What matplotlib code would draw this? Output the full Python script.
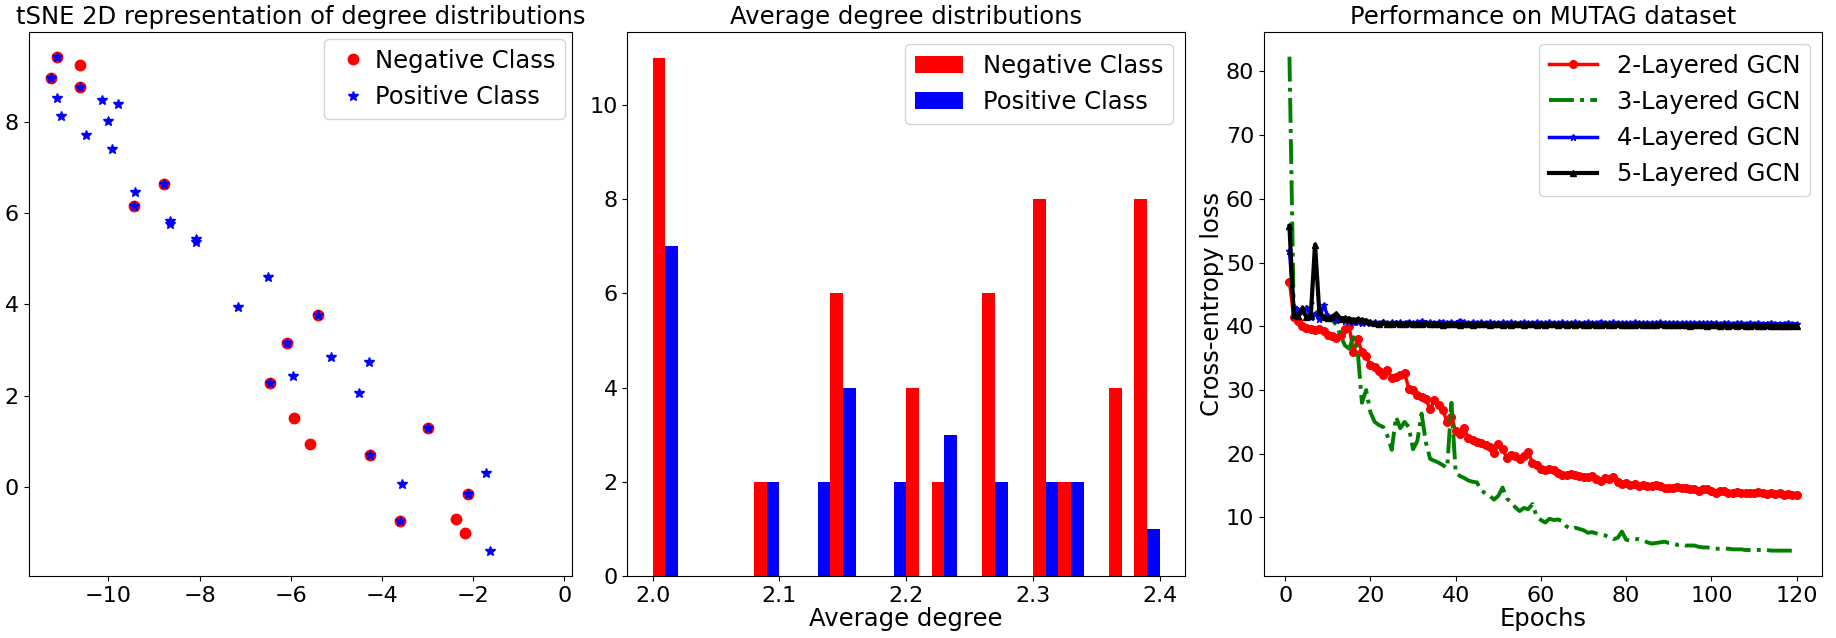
import numpy as np
import matplotlib

matplotlib.use("Agg")
import matplotlib.pyplot as plt

# --- panel 1: tSNE embedding of degree distributions ---
neg_x = [-11.27, -11.13, -10.62, -10.62, -9.44, -8.78, -5.41, -6.09, -6.45,
         -5.92, -5.57, -2.98, -4.26, -3.60, -2.11, -2.37, -2.18]
neg_y = [8.97, 9.43, 9.24, 8.77, 6.15, 6.65, 3.77, 3.15, 2.28,
         1.50, 0.93, 1.30, 0.69, -0.74, -0.15, -0.71, -1.01]
pos_x = [-11.27, -11.13, -10.62, -11.13, -11.04, -10.49, -10.14, -10.00, -9.78,
         -9.93, -9.42, -9.44, -8.78, -8.66, -8.64, -8.08, -8.08, -6.50, -7.16,
         -5.41, -6.09, -5.12, -4.28, -5.96, -6.45, -4.51, -2.98, -4.26, -3.57,
         -3.60, -1.72, -2.11, -1.62]
pos_y = [8.97, 9.43, 8.77, 8.53, 8.14, 7.72, 8.49, 8.03, 8.40,
         7.41, 6.47, 6.15, 6.65, 5.83, 5.77, 5.43, 5.36, 4.60, 3.95,
         3.77, 3.15, 2.85, 2.73, 2.43, 2.28, 2.06, 1.30, 0.69, 0.06,
         -0.74, 0.31, -0.15, -1.41]

# --- panel 2: average degree histogram (bins of width 0.02) ---
deg_bins = np.array([2.00, 2.08, 2.12, 2.14, 2.18, 2.20, 2.22, 2.26, 2.30, 2.32, 2.36, 2.38])
neg_counts = [11, 2, 0, 6, 0, 4, 2, 6, 8, 2, 4, 8]
pos_counts = [7, 2, 2, 4, 2, 0, 3, 2, 2, 2, 0, 1]
bin_width = 0.02

# --- panel 3: training loss per epoch ---
loss_2 = [47.0, 41.5, 40.8, 40.0, 39.8, 39.5, 39.4, 39.6, 39.2, 38.6,
          38.4, 38.2, 38.6, 39.5, 40.0, 36.0, 38.0, 36.0, 35.3, 33.9,
          33.6, 33.0, 32.4, 33.1, 31.9, 32.0, 32.3, 32.7, 30.2, 30.0,
          29.2, 28.9, 28.6, 27.0, 28.4, 27.6, 26.8, 25.0, 25.8, 23.5,
          23.1, 24.0, 22.4, 22.1, 21.9, 21.7, 21.4, 21.0, 20.1, 21.5,
          20.7, 19.4, 19.8, 19.6, 19.1, 19.6, 20.2, 18.6, 18.3, 17.6,
          17.5, 17.6, 17.4, 17.0, 16.7, 16.6, 16.9, 16.6, 16.5, 16.3,
          16.4, 16.5, 16.0, 15.8, 16.2, 16.0, 16.3, 15.6, 15.3, 15.4,
          15.1, 15.2, 15.0, 15.1, 15.0, 14.9, 15.1, 14.9, 14.7, 14.6,
          14.7, 14.8, 14.7, 14.6, 14.5, 14.4, 14.2, 14.4, 14.5, 14.1,
          13.9, 14.1, 14.2, 13.9, 13.9, 14.0, 13.8, 13.9, 13.9, 13.8,
          14.0, 13.8, 13.7, 13.8, 13.7, 13.8, 13.6, 13.7, 13.6, 13.5]
loss_3 = [82.3, 42.5, 42.0, 42.5, 42.8, 44.0, 43.0, 42.2, 41.6, 41.4,
          41.0, 40.2, 38.6, 37.0, 36.5, 38.3, 36.2, 28.0, 30.0, 26.5,
          25.0, 24.5, 24.2, 22.8, 20.6, 25.8, 24.0, 25.0, 24.2, 20.7,
          22.0, 26.3, 21.8, 19.2, 18.9, 18.6, 18.2, 17.8, 28.0, 17.0,
          16.5, 16.2, 15.8, 15.6, 15.5, 14.2, 13.8, 13.4, 12.8, 13.4,
          14.7, 13.0, 12.3, 11.6, 11.0, 11.5, 11.3, 12.1, 10.2, 9.6,
          9.2, 9.8, 9.6, 9.7, 9.4, 8.6, 8.2, 8.4, 8.2, 8.0,
          7.6, 7.7, 7.5, 7.3, 7.2, 6.9, 6.6, 6.8, 7.8, 6.5,
          6.4, 6.6, 6.6, 6.4, 6.1, 5.9, 6.0, 6.1, 6.2, 6.0,
          5.9, 5.7, 5.8, 5.6, 5.6, 5.6, 5.4, 5.3, 5.3, 5.2,
          5.1, 5.1, 5.1, 5.1, 5.0, 5.0, 5.0, 4.9, 4.9, 4.9,
          4.9, 4.9, 4.9, 4.8, 4.8, 4.8, 4.8, 4.8, 4.8, 4.7]
loss_4 = [51.8, 43.0, 42.6, 42.2, 42.9, 41.5, 42.0, 41.2, 43.3, 41.6,
          41.4, 41.0, 41.2, 40.8, 40.9, 40.6, 40.7, 40.5, 40.6, 40.5,
          40.6, 40.5, 40.7, 40.5, 40.6, 40.5, 40.6, 40.5, 40.7, 40.5,
          40.6, 40.8, 40.5, 40.6, 40.5, 40.6, 40.7, 40.5, 40.6, 40.5,
          40.9, 40.6, 40.5, 40.6, 40.5, 40.6, 40.5, 40.6, 40.5, 40.5,
          40.6, 40.5, 40.6, 40.5, 40.5, 40.6, 40.5, 40.5, 40.6, 40.5,
          40.5, 40.6, 40.5, 40.5, 40.6, 40.5, 40.5, 40.6, 40.5, 40.5,
          40.6, 40.5, 40.5, 40.7, 40.5, 40.5, 40.6, 40.5, 40.5, 40.5,
          40.5, 40.6, 40.5, 40.5, 40.5, 40.5, 40.5, 40.6, 40.5, 40.5,
          40.5, 40.5, 40.5, 40.5, 40.5, 40.5, 40.5, 40.5, 40.5, 40.5,
          40.5, 40.4, 40.5, 40.5, 40.4, 40.5, 40.5, 40.4, 40.5, 40.4,
          40.5, 40.4, 40.4, 40.5, 40.4, 40.4, 40.4, 40.5, 40.4, 40.4]
loss_5 = [55.7, 41.8, 41.6, 42.8, 41.4, 41.6, 52.8, 42.3, 41.4, 41.3,
          41.5, 42.0, 41.2, 41.3, 41.2, 41.0, 41.1, 41.0, 40.9, 40.6,
          40.5, 40.4, 40.6, 40.3, 40.4, 40.5, 40.3, 40.4, 40.5, 40.3,
          40.4, 40.3, 40.5, 40.3, 40.4, 40.3, 40.2, 40.4, 40.3, 40.4,
          40.2, 40.3, 40.4, 40.2, 40.3, 40.4, 40.3, 40.2, 40.3, 40.4,
          40.2, 40.3, 40.2, 40.4, 40.3, 40.2, 40.3, 40.3, 40.2, 40.3,
          40.2, 40.3, 40.3, 40.2, 40.3, 40.2, 40.3, 40.2, 40.3, 40.2,
          40.2, 40.3, 40.2, 40.2, 40.3, 40.2, 40.2, 40.3, 40.2, 40.2,
          40.2, 40.2, 40.3, 40.2, 40.2, 40.2, 40.2, 40.3, 40.2, 40.2,
          40.2, 40.2, 40.2, 40.2, 40.1, 40.2, 40.2, 40.2, 40.1, 40.2,
          40.2, 40.1, 40.2, 40.1, 40.2, 40.1, 40.2, 40.1, 40.1, 40.2,
          40.1, 40.1, 40.2, 40.1, 40.1, 40.1, 40.1, 40.1, 40.1, 40.1]

TXT = 17.5
LEG = 17.5
TICK = 16

fig = plt.figure(figsize=(18.36, 6.38), dpi=100)
fig.patch.set_facecolor("white")
ax1 = fig.add_axes([0.0156, 0.0972, 0.2961, 0.8527])
ax2 = fig.add_axes([0.3417, 0.0972, 0.3038, 0.8527])
ax3 = fig.add_axes([0.6885, 0.0972, 0.3039, 0.8527])

# tSNE scatter
ax1.plot(neg_x, neg_y, "o", color="red", markersize=7.5, label="Negative Class")
ax1.plot(pos_x, pos_y, "*", color="blue", markersize=7.5, label="Positive Class")
ax1.set_xlim(-11.75, 0.175)
ax1.set_title("tSNE 2D representation of degree distributions", fontsize=TXT)
ax1.legend(loc="upper right", fontsize=LEG, numpoints=1,
           handlelength=1.6, handletextpad=0.1, borderaxespad=0.3)

# degree histogram, red left half / blue right half of each bin
ax2.bar(deg_bins, neg_counts, width=bin_width / 2, align="edge", color="red",
        label="Negative Class")
ax2.bar(deg_bins + bin_width / 2, pos_counts, width=bin_width / 2, align="edge",
        color="blue", label="Positive Class")
ax2.set_xlim(1.98, 2.42)
ax2.set_xticks([2.0, 2.1, 2.2, 2.3, 2.4])
ax2.set_title("Average degree distributions", fontsize=TXT)
ax2.set_xlabel("Average degree", fontsize=TXT, labelpad=1)
ax2.legend(loc="upper right", fontsize=LEG)

# loss curves
ax3.plot(np.arange(1, len(loss_2) + 1), loss_2, "-o", color="red", linewidth=2.5,
         markersize=5.5, label="2-Layered GCN")
ax3.plot(np.arange(1, len(loss_3) + 1), loss_3, "-.", color="green", linewidth=2.8,
         label="3-Layered GCN")
ax3.plot(np.arange(1, len(loss_4) + 1), loss_4, "-*", color="blue", linewidth=2.5,
         markersize=5, label="4-Layered GCN")
ax3.plot(np.arange(1, len(loss_5) + 1), loss_5, "-^", color="black", linewidth=3,
         markersize=5, label="5-Layered GCN")
ax3.set_title("Performance on MUTAG dataset", fontsize=TXT)
ax3.set_xlabel("Epochs", fontsize=TXT, labelpad=1)
ax3.set_ylabel("Cross-entropy loss", fontsize=TXT, labelpad=1)
ax3.legend(loc="upper right", fontsize=LEG)

for ax in (ax1, ax2, ax3):
    ax.tick_params(labelsize=TICK)

fig.savefig("out.png", dpi=100, facecolor="white")
